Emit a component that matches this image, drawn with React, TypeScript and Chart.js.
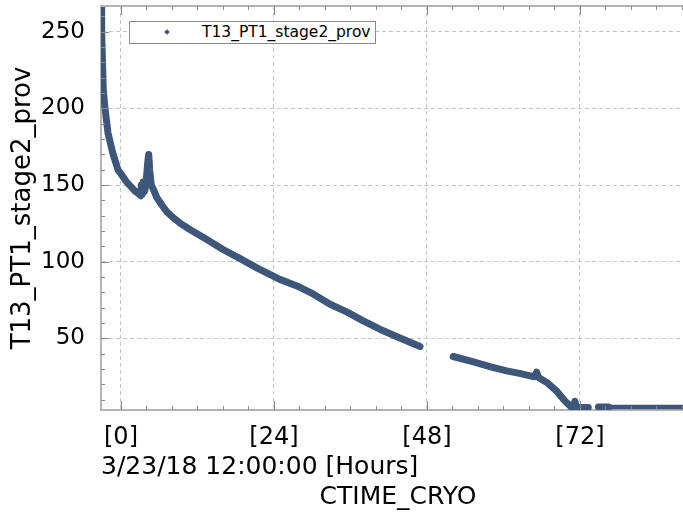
import React, { useEffect, useRef } from 'react';
import { Chart, registerables } from 'chart.js';

Chart.register(...registerables);

// Hours since 3/23/18 12:00:00 (null marks a gap in the record)
const hours: number[] = [
  -3.1, -3.03, -2.78, -2.51, -2.04, -1.3, -0.47, 0.89, 2.2, 2.9,
  3.1, 3.2, 3.35, 3.5, 3.7, 3.9, 4.2, 4.35, 4.5, 4.75,
  5.1, 5.6, 6.4, 7.2, 8.2, 9.5, 10.8, 13.4, 16.0, 18.7,
  21.3, 24.9, 27.6, 30.2, 32.8, 35.4, 38.0, 40.6, 43.2, 46.9,
  49.5,
  52.1, 55.3, 58.0, 60.5, 62.5, 64.2, 64.9, 65.2, 65.5, 66.8,
  68.3, 69.6, 70.7, 71.0, 71.2, 71.4, 73.3,
  74.1,
  74.9, 76.5, 80.0, 85.0, 90.0,
];

const temps: (number | null)[] = [
  268, 249, 212, 200, 184, 171, 160, 152, 146, 144,
  143, 150, 144, 152, 146, 150, 165, 170, 160, 150,
  147, 142, 137, 132.5, 128.7, 124.5, 121, 114.6, 108, 102,
  96, 88.5, 84.2, 78.8, 72.3, 67.3, 61.4, 56, 51.2, 44.7,
  null,
  38.2, 34.7, 31.5, 28.8, 27.2, 25.6, 25.0, 28, 24.5, 21.3,
  15.8, 9.3, 5, 5.2, 9, 5, 5,
  null,
  5.3, 5.2, 5.2, 5.2, 5.2,
];

const xMajorStep = 24;
const xMinorStep = 4;
const yMajorStep = 50;
const yMinorStep = 10;

const seriesName = 'T13_PT1_stage2_prov';
const yAxisTitle = 'T13_PT1_stage2_prov';
const xAxisTitle = '3/23/18 12:00:00 [Hours]';
const xAxisName = 'CTIME_CRYO';

const FONT = "'DejaVu Sans', sans-serif";
const LINE_COLOR = '#3d5679';
const AXIS_COLOR = '#b4b4b4';
const TICK_COLOR = '#8a8a8a';
const GRID_COLOR = '#c6c6c6';

const innerTicks = {
  id: 'innerTicks',
  afterDraw(chart: any) {
    const { ctx, chartArea: a, scales } = chart;
    const x = scales.x;
    const y = scales.y;
    ctx.save();
    // top frame line
    ctx.strokeStyle = AXIS_COLOR;
    ctx.lineWidth = 2;
    ctx.beginPath();
    ctx.moveTo(a.left, a.top);
    ctx.lineTo(a.right, a.top);
    ctx.stroke();

    ctx.strokeStyle = TICK_COLOR;
    ctx.lineWidth = 1;
    ctx.beginPath();
    for (let v = Math.ceil(x.min / xMinorStep) * xMinorStep; v <= x.max; v += xMinorStep) {
      const px = Math.round(x.getPixelForValue(v)) + 0.5;
      const len = v % xMajorStep === 0 ? 9 : 4;
      ctx.moveTo(px, a.bottom);
      ctx.lineTo(px, a.bottom - len);
      ctx.moveTo(px, a.top);
      ctx.lineTo(px, a.top + len);
    }
    for (let v = Math.ceil(y.min / yMinorStep) * yMinorStep; v <= y.max; v += yMinorStep) {
      const py = Math.round(y.getPixelForValue(v)) + 0.5;
      const len = v % yMajorStep === 0 ? 8 : 4;
      ctx.moveTo(a.left, py);
      ctx.lineTo(a.left + len, py);
    }
    ctx.stroke();
    ctx.restore();
  },
};

export default function App() {
  const ref = useRef<HTMLCanvasElement | null>(null);

  useEffect(() => {
    if (!ref.current) return;
    const data = hours.map((h, i) => ({ x: h, y: temps[i] }));
    const chart = new Chart(ref.current, {
      type: 'scatter',
      data: {
        datasets: [
          {
            label: seriesName,
            data: data as any,
            showLine: true,
            spanGaps: false,
            borderColor: LINE_COLOR,
            backgroundColor: LINE_COLOR,
            borderWidth: 7,
            borderJoinStyle: 'round',
            borderCapStyle: 'round',
            pointRadius: 0,
            tension: 0,
            segment: {
              borderWidth: (c: any) => (c.p0.parsed.x > 76 ? 4.5 : 7),
            },
          } as any,
        ],
      },
      options: {
        responsive: false,
        animation: false,
        layout: { padding: { left: 0, right: 0, top: 6, bottom: 0 } },
        plugins: {
          legend: { display: false },
          tooltip: { enabled: false },
          title: {
            display: true,
            position: 'bottom',
            fullSize: false,
            text: xAxisName,
            color: '#000',
            font: { family: FONT, size: 25, weight: 'normal' },
            padding: { top: 0, bottom: 4 },
          },
        },
        scales: {
          x: {
            type: 'linear',
            min: -3.137,
            max: 90.04,
            afterFit: (s: any) => {
              s.height = 72;
              s.paddingLeft = 0;
              s.paddingRight = 0;
            },
            ticks: {
              stepSize: xMajorStep,
              includeBounds: false,
              autoSkip: false,
              maxRotation: 0,
              padding: 13,
              color: '#000',
              font: { family: FONT, size: 24 },
              callback: (v: any) => `[${v}]`,
            },
            grid: { color: GRID_COLOR, drawTicks: false, lineWidth: 1 },
            border: { color: AXIS_COLOR, width: 2, dash: [4, 3] },
            title: {
              display: true,
              text: xAxisTitle,
              align: 'start',
              color: '#000',
              font: { family: FONT, size: 25 },
              padding: { top: 0, bottom: 0 },
            },
          },
          y: {
            type: 'linear',
            min: 3.3,
            max: 266.8,
            afterFit: (s: any) => {
              s.width = 101;
              s.paddingTop = 0;
              s.paddingBottom = 0;
            },
            ticks: {
              stepSize: yMajorStep,
              includeBounds: false,
              padding: 16,
              color: '#000',
              font: { family: FONT, size: 23 },
            },
            grid: { color: GRID_COLOR, drawTicks: false, lineWidth: 1 },
            border: { color: AXIS_COLOR, width: 2, dash: [4, 3] },
            title: {
              display: true,
              text: yAxisTitle,
              color: '#000',
              font: { family: FONT, size: 26 },
              padding: { top: 8, bottom: 0 },
            },
          },
        },
      } as any,
      plugins: [innerTicks],
    });
    return () => chart.destroy();
  }, []);

  return (
    <div
      style={{
        position: 'absolute',
        left: 0,
        top: 0,
        width: 683,
        height: 516,
        overflow: 'hidden',
        background: '#fff',
      }}
    >
      <canvas ref={ref} width={695} height={516} style={{ display: 'block' }} />
      <div
        style={{
          position: 'absolute',
          left: 129,
          top: 21,
          width: 247,
          height: 23,
          boxSizing: 'border-box',
          border: '1px solid #8a8a8a',
          background: '#fff',
        }}
      >
        <div
          style={{
            position: 'absolute',
            left: 35,
            top: 8,
            width: 4,
            height: 4,
            background: LINE_COLOR,
            transform: 'rotate(45deg)',
          }}
        />
        <div
          style={{
            position: 'absolute',
            left: 72,
            top: 0,
            height: 21,
            lineHeight: '21px',
            fontFamily: FONT,
            fontSize: 15.5,
            color: '#000',
            whiteSpace: 'nowrap',
          }}
        >
          {seriesName}
        </div>
      </div>
    </div>
  );
}
